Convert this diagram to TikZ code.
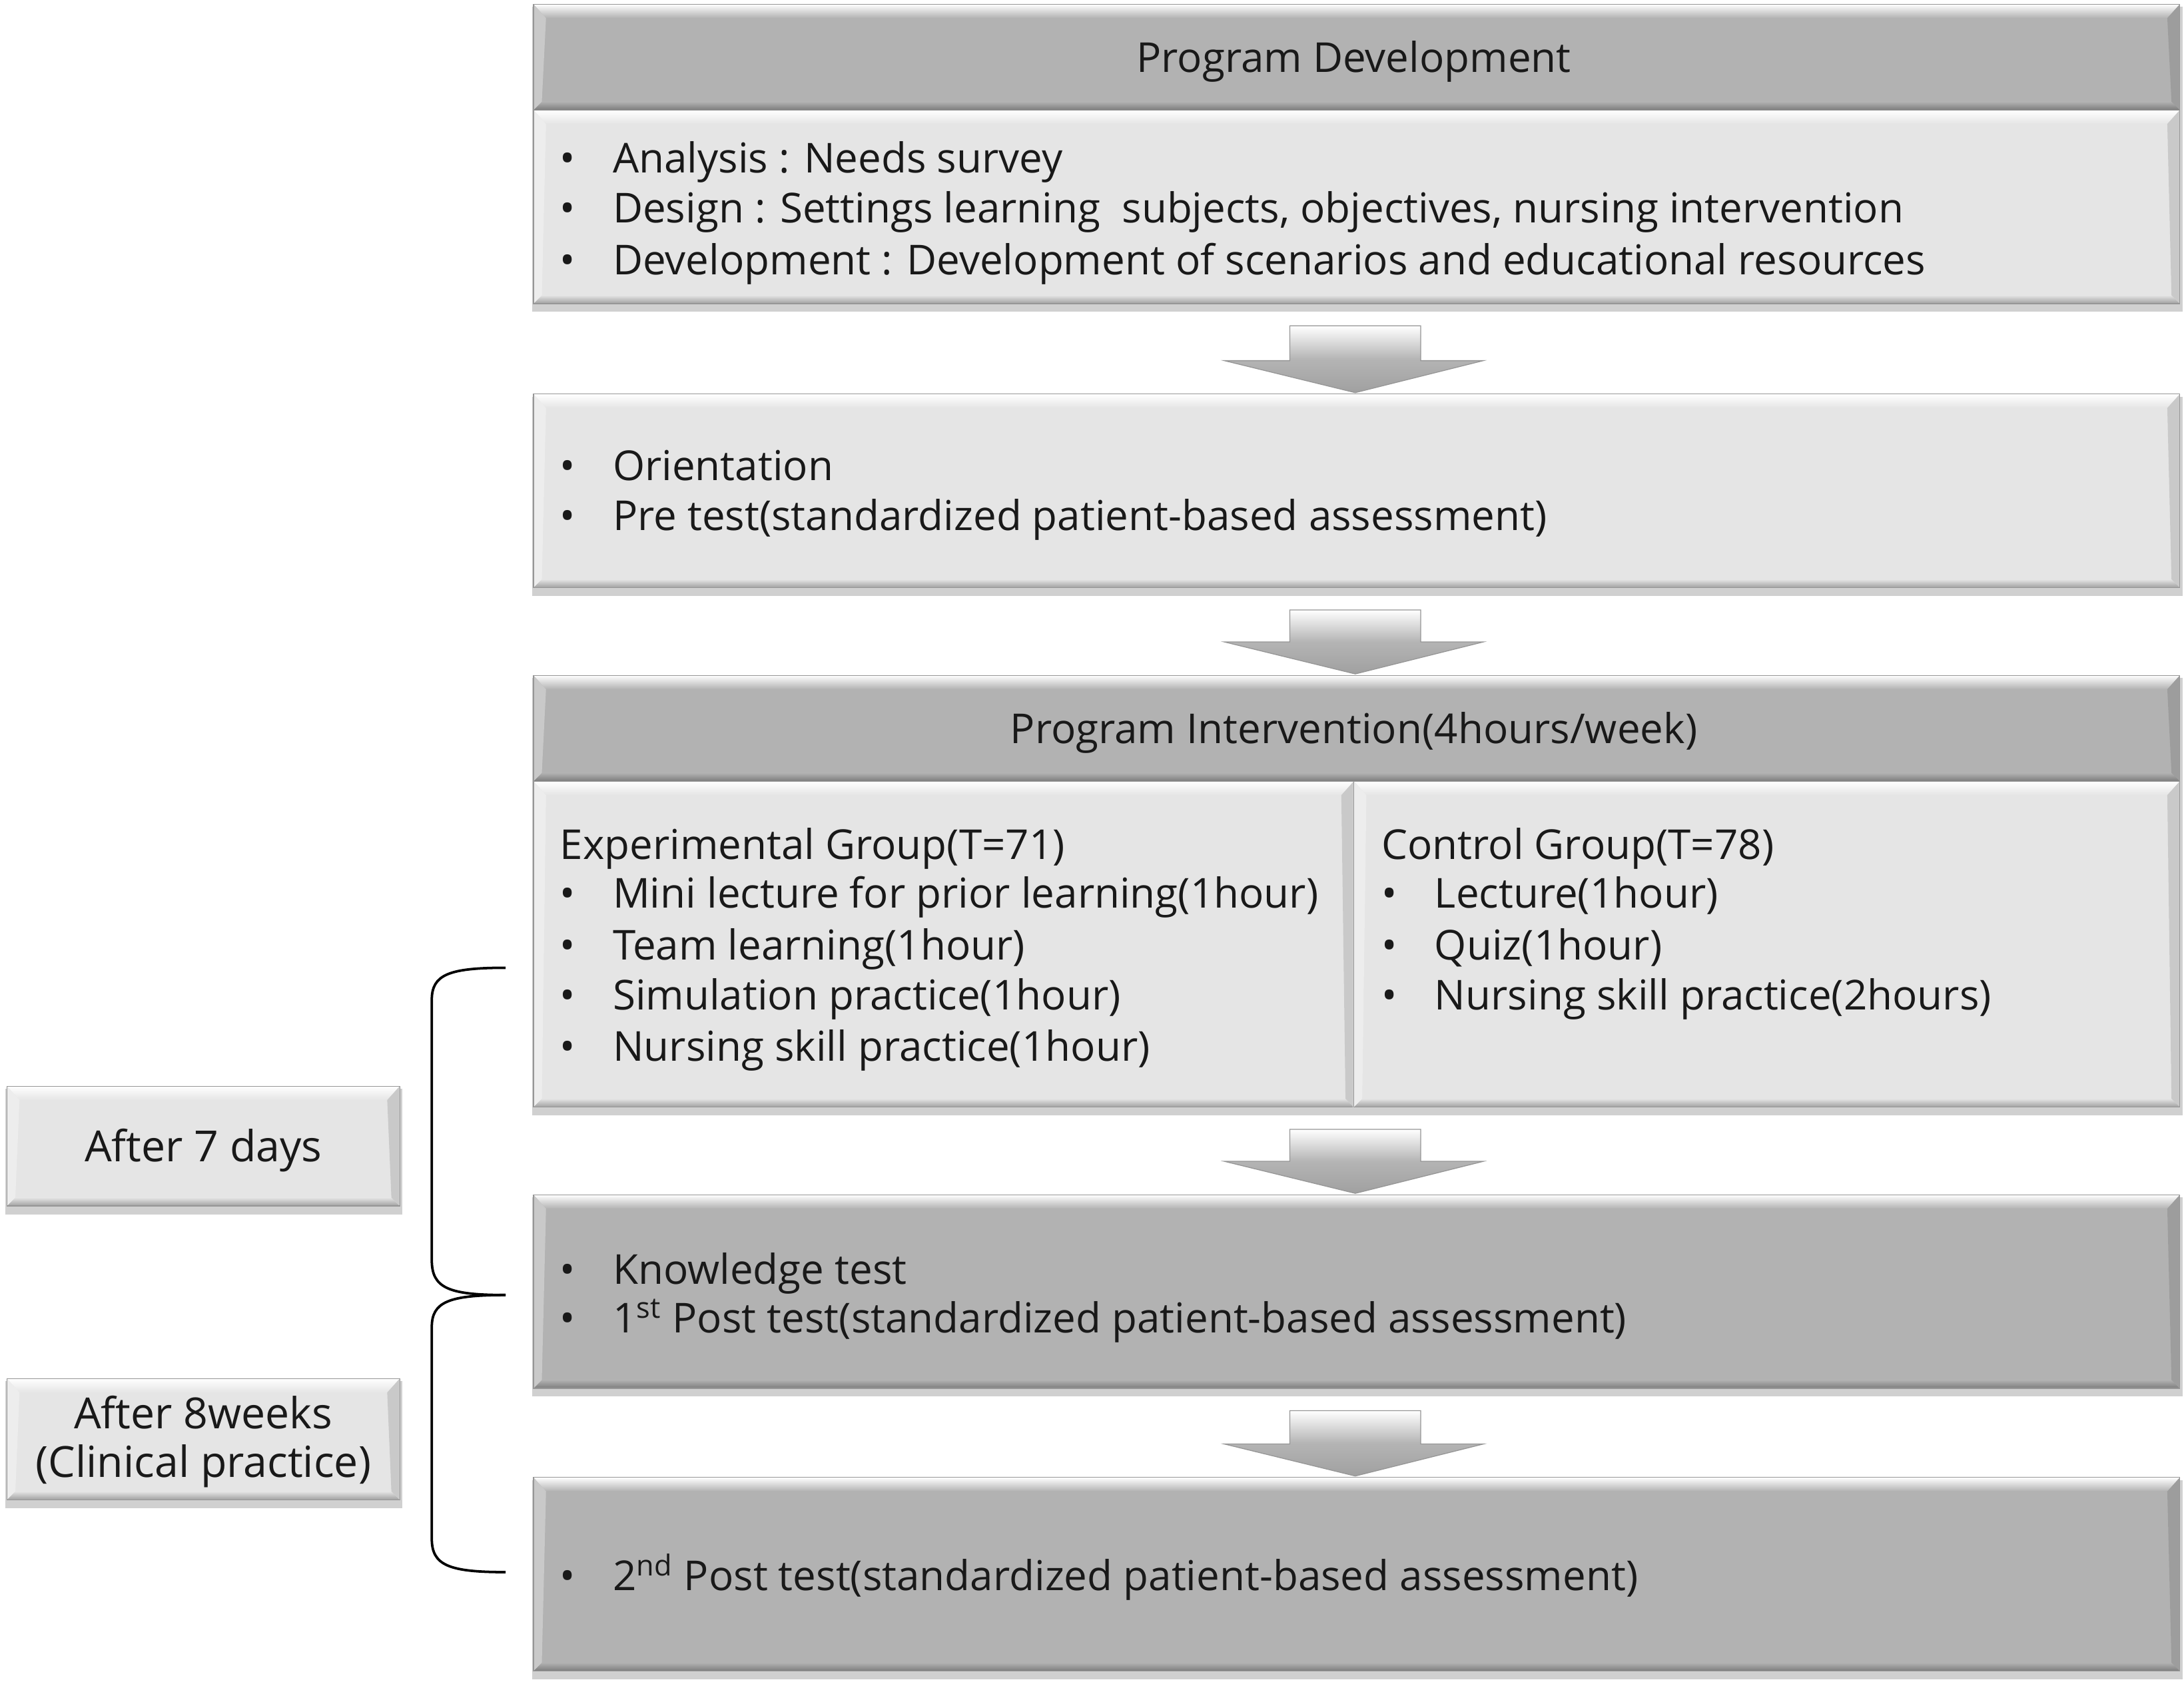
\documentclass[tikz,border=0pt]{standalone}
\usepackage{fontspec}
\setmainfont{Open Sans}
\usetikzlibrary{calc,fit}
\definecolor{lightfill}{RGB}{229,229,229}
\definecolor{darkfill}{RGB}{178,178,178}
\definecolor{textcol}{RGB}{25,25,25}
\definecolor{shadowcol}{RGB}{208,208,208}
\definecolor{edgecol}{RGB}{150,150,150}
\definecolor{arrowdark}{RGB}{160,160,160}
\definecolor{arrowmid}{RGB}{180,180,180}
\newcommand\bl{\makebox[19pt][l]{\textbullet}}
\tikzset{
  bevel/.style={fill=#1, draw=edgecol, line width=0.3pt, path picture={
    \coordinate (pa) at (path picture bounding box.north west);
    \coordinate (pb) at (path picture bounding box.south east);
    \shade[top color=white, bottom color=#1] (pa) -- (pa -| pb) -- ($(pa -| pb)+(-9,10)$) -- ($(pa)+(9,10)$) -- cycle;
    \shade[top color=#1, bottom color=#1!70!black] ($(pa |- pb)+(6,-6)$) -- ($(pb)+(-6,-6)$) -- (pb) -- (pa |- pb) -- cycle;
    \fill[#1!70!white] (pa) -- ($(pa)+(9,10)$) -- ($(pa |- pb)+(6,-6)$) -- (pa |- pb) -- cycle;
    \fill[#1!88!black] (pa -| pb) -- ($(pa -| pb)+(-9,10)$) -- ($(pb)+(-6,-6)$) -- (pb) -- cycle;
  }},
  txt/.style={font=\fontsize{14.8}{17}\selectfont, text=textcol, inner sep=0pt, outer sep=0pt,
    anchor=west, text height=11pt, text depth=3.5pt, yshift=-1.8pt},
  ctxt/.style={txt, anchor=center},
  stxt/.style={ctxt, font=\fontsize{15.4}{17}\selectfont},
  bracecurve/.style={draw=black, line width=0.9pt},
  arrowshade/.style={top color=white, bottom color=arrowdark, middle color=arrowmid, draw=edgecol, line width=0.3pt}
}
\newcommand\pbox[6]{%
  \fill[shadowcol] (#2-1,#3+2) rectangle (#4+2,#5+6);
  \node[fit={(#2,#3)(#4,#5)}, inner sep=0pt, outer sep=0pt, bevel=#6] (#1) {};}
% block arrow from anchor #1 (upper box) to anchor #2 (lower box)
\newcommand\blockarr[2]{%
  \coordinate (arT) at ($(#1 -| #2)+(-1,16)$);
  \coordinate (arB) at ($(#2)+(-1,-1)$);
  \shade[arrowshade] ($(arT)+(-47,0)$) -- ($(arT)+(47,0)$) -- ($(arB)+(47,-23)$) -- ($(arB)+(92,-23)$)
    -- (arB) -- ($(arB)+(-94,-23)$) -- ($(arB)+(-47,-23)$) -- cycle;}
\begin{document}
\begin{tikzpicture}[x=0.5pt, y=-0.5pt]
\useasboundingbox (0,0) rectangle (1568,1211.75);
\fill[white] (0,0) rectangle (1568,1211.75);

% main boxes
\pbox{b1h}{383}{3}{1565}{79}{darkfill}
\pbox{b1}{383}{79}{1565}{218}{lightfill}
\pbox{b2}{383}{283}{1565}{422}{lightfill}
\pbox{b3h}{383}{485}{1565}{561}{darkfill}
\pbox{b3l}{383}{561}{972}{795}{lightfill}
\pbox{b3r}{972}{561}{1565}{795}{lightfill}
\pbox{b4}{383}{858}{1565}{997}{darkfill}
\pbox{b5}{383}{1061}{1565}{1200}{darkfill}
% side boxes
\pbox{a7}{5}{780}{287}{866}{lightfill}
\pbox{a8}{5}{990}{287}{1077}{lightfill}

% arrows
\blockarr{b1.south}{b2.north}
\blockarr{b2.south}{b3h.north}
\blockarr{b3l.south east}{b4.north}
\blockarr{b4.south}{b5.north}

% texts
\node[ctxt] (t0) at (972,41) {Program Development};
\node[txt] (t11) at (402,113) {\bl Analysis : Needs survey};
\node[txt] (t12) at (402,149) {\bl Design : Settings learning\ \ subjects, objectives, nursing intervention};
\node[txt] (t13) at (402,186) {\bl Development : Development of scenarios and educational resources};
\node[txt] (t21) at (402,334) {\bl Orientation};
\node[txt] (t22) at (402,370) {\bl Pre test(standardized patient-based assessment)};
\node[ctxt] (t30) at (972,523) {Program Intervention(4hours/week)};
\node[txt] (e0) at (402,606) {Experimental Group(T=71)};
\node[txt] (e1) at (402,641) {\bl Mini lecture for prior learning(1hour)};
\node[txt] (e2) at (402,678) {\bl Team learning(1hour)};
\node[txt] (e3) at (402,714) {\bl Simulation practice(1hour)};
\node[txt] (e4) at (402,751) {\bl Nursing skill practice(1hour)};
\node[txt] (c0) at (992,606) {Control Group(T=78)};
\node[txt] (c1) at (992,641) {\bl Lecture(1hour)};
\node[txt] (c2) at (992,678) {\bl Quiz(1hour)};
\node[txt] (c3) at (992,714) {\bl Nursing skill practice(2hours)};
\node[txt] (t41) at (402,911) {\bl Knowledge test};
\node[txt] (t42) at (402,946) {\bl 1\textsuperscript{st} Post test(standardized patient-based assessment)};
\node[txt] (t51) at (402,1131) {\bl 2\textsuperscript{nd} Post test(standardized patient-based assessment)};
\node[stxt] (s7) at (146,823) {After 7 days};
\node[stxt] (s81) at (146,1015) {After 8weeks};
\node[stxt] (s82) at (146,1050) {(Clinical practice)};

% braces
\coordinate (br1t) at (363,695);
\coordinate (br1m) at (363,930);
\coordinate (br2b) at (363,1129);
\draw[bracecurve] (br1t) .. controls (322,695) and (310,700) .. (310,718) -- (310,905)
  .. controls (310,925) and (322,930) .. (br1m);
\draw[bracecurve] (br1m) .. controls (322,930) and (310,935) .. (310,953) -- (310,1105)
  .. controls (310,1124) and (322,1129) .. (br2b);
\end{tikzpicture}
\end{document}
